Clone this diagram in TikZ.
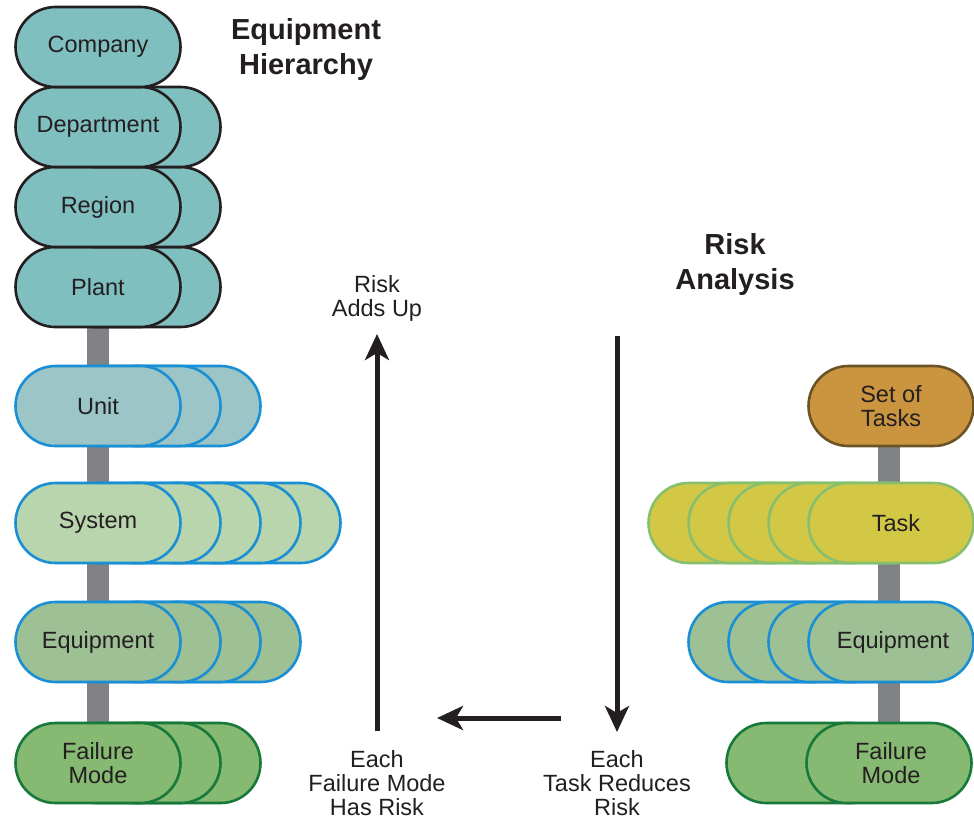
\documentclass[tikz,border=0pt]{standalone}
\usepackage{fontspec}
\setmainfont{Liberation Sans}
\usetikzlibrary{arrows.meta,backgrounds}
\definecolor{ink}{HTML}{231F20}
\definecolor{teal}{HTML}{80BFC0}
\definecolor{unitf}{HTML}{9BC5C7}
\definecolor{blueb}{HTML}{1A8FD4}
\definecolor{sysf}{HTML}{B8D5AD}
\definecolor{eqf}{HTML}{9EC095}
\definecolor{fmf}{HTML}{86B972}
\definecolor{fmb}{HTML}{17793A}
\definecolor{sotf}{HTML}{CB9540}
\definecolor{sotb}{HTML}{6B5326}
\definecolor{taskf}{HTML}{D3C845}
\definecolor{taskb}{HTML}{86C06F}
\definecolor{barc}{HTML}{808285}
\tikzset{
  capsule/.style={rectangle, rounded corners=39.9pt, minimum width=165pt, minimum height=80pt,
    line width=2.6pt, inner sep=0pt, align=center, text=ink,
    font=\fontsize{23.5}{23.5}\selectfont},
  topc/.style={capsule, fill=teal, draw=ink},
  unitc/.style={capsule, fill=unitf, draw=blueb},
  sysc/.style={capsule, fill=sysf, draw=blueb},
  eqc/.style={capsule, fill=eqf, draw=blueb},
  fmc/.style={capsule, fill=fmf, draw=fmb},
  sotc/.style={capsule, fill=sotf, draw=sotb},
  taskc/.style={capsule, fill=taskf, draw=taskb},
  bar/.style={draw=barc, line width=22pt},
  arr/.style={draw=ink, line width=5pt, -{Stealth[length=26pt,width=24pt,inset=7pt]}},
  lbl/.style={align=center, text=ink, inner sep=0pt, font=\fontsize{23.5}{24}\selectfont},
  ttl/.style={align=center, text=ink, inner sep=0pt, font=\fontsize{29}{35}\selectfont\bfseries}
}
\begin{document}
\begin{tikzpicture}[x=1pt,y=-1pt]
\useasboundingbox (0,0) rectangle (974,820);
% left column top stack
\node[topc] (plantb) at (138,287) {};
\node[topc] (plant) at (98,287) {Plant};
\node[topc] (regionb) at (138,207) {};
\node[topc] (region) at (98,207) {Region};
\node[topc] (deptb) at (138,127) {};
\node[topc] (dept) at (98,127) {Department};
\node[topc] (comp) at (98,47) {Company};
% unit
\foreach \i in {2,1} \node[unitc] (unit\i) at (98+40*\i,406) {};
\node[unitc] (unit) at (98,406) {Unit};
% system
\foreach \i in {4,3,2,1} \node[sysc] (sys\i) at (98+40*\i,523) {};
\node[sysc] (sys) at (98,523) {System};
% equipment
\foreach \i in {3,2,1} \node[eqc] (eql\i) at (98+40*\i,642) {};
\node[eqc] (eql) at (98,642) {Equipment};
% failure mode
\foreach \i in {2,1} \node[fmc] (fml\i) at (98+40*\i,763) {};
\node[fmc] (fml) at (98,763) {Failure\\Mode};
% right column
\node[sotc] (sot) at (891,406) {Set of\\Tasks};
\foreach \i in {4,3,2,1} \node[taskc] (task\i) at (891-40*\i,523) {};
\node[taskc] (task) at (891,523) {\hspace*{10pt}Task};
\foreach \i in {3,2,1} \node[eqc] (eqr\i) at (891-40*\i,642) {};
\node[eqc] (eqr) at (891,642) {\hspace*{4pt}Equipment};
\node[fmc] (fmr1) at (809,763) {};
\node[fmc] (fmr) at (889,763) {\hspace*{4pt}Failure\\\hspace*{4pt}Mode};
% bars
\begin{pgfonlayer}{background}
\draw[bar] (plant.center) -- (fml.center);
\draw[bar] ([xshift=-2pt]sot.center) -- ([xshift=-2pt]sot.center |- fmr.center);
\end{pgfonlayer}
% titles
\node[ttl] (t1) at (306,49) {Equipment\\Hierarchy};
\node[ttl] (t2) at (735,264) {Risk\\Analysis};
% labels
\node[lbl] (adds) at (377,298) {Risk\\Adds Up};
\node[lbl] (each1) at (377,783) {Each\\Failure Mode\\Has Risk};
\node[lbl] (each2) at (617,783) {Each\\Task Reduces\\Risk};
% arrows
\coordinate (upS) at (377,731);
\coordinate (upE) at (377,334);
\coordinate (dnS) at (617,336);
\coordinate (dnE) at (617,732);
\coordinate (lfS) at (561,718);
\coordinate (lfE) at (437,718);
\draw[arr] (upS) -- (upE);
\draw[arr] (dnS) -- (dnE);
\draw[arr] (lfS) -- (lfE);
\end{tikzpicture}
\end{document}
